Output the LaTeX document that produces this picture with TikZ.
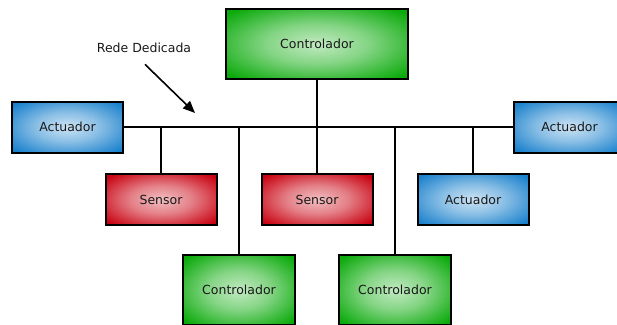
\documentclass[tikz,border=0pt]{standalone}
\usepackage{fontspec}
\setmainfont{DejaVu Sans}
\usetikzlibrary{arrows.meta,positioning}
\definecolor{ctlgreen}{HTML}{0AAA0A}
\definecolor{actblue}{HTML}{1880CC}
\definecolor{senred}{HTML}{C8000F}
\pgfdeclareradialshading{ctlshade}{\pgfpoint{0bp}{0bp}}{color(0bp)=(ctlgreen!25); color(14bp)=(ctlgreen!50); color(26bp)=(ctlgreen!82); color(33bp)=(ctlgreen); color(50bp)=(ctlgreen)}
\pgfdeclareradialshading{actshade}{\pgfpoint{0bp}{0bp}}{color(0bp)=(actblue!22); color(14bp)=(actblue!50); color(26bp)=(actblue!82); color(33bp)=(actblue); color(50bp)=(actblue)}
\pgfdeclareradialshading{senshade}{\pgfpoint{0bp}{0bp}}{color(0bp)=(senred!25); color(14bp)=(senred!50); color(26bp)=(senred!82); color(33bp)=(senred); color(50bp)=(senred)}

\begin{document}
\begin{tikzpicture}[x=1pt,y=-1pt,
  unit/.style={draw=black,line width=2pt,minimum width=111pt,minimum height=51pt,inner sep=0pt,font=\fontsize{12.5}{15}\selectfont,text=black!90},
  ctl/.style={unit,minimum width=112pt,minimum height=70pt,shading=ctlshade},
  act/.style={unit,shading=actshade},
  sen/.style={unit,shading=senshade},
  bus/.style={line width=1.6pt},
  arr/.style={-{Triangle[length=12pt,width=10pt]},line width=1.6pt}]
  \useasboundingbox (0,0) rectangle (617,324);
  % bus and nodes
  \node[ctl,minimum width=182pt] (ctlTop) at (317,44) {Controlador};
  \node[act] (actL) at (67.5,127) {Actuador};
  \node[act] (actR) at (569.5,127) {Actuador};
  \node[sen] (senA) at (161,199.5) {Sensor};
  \node[sen] (senB) at (317,199.5) {Sensor};
  \node[act] (actB) at (473,199.5) {Actuador};
  \node[ctl] (ctlA) at (239,290) {Controlador};
  \node[ctl] (ctlB) at (395,290) {Controlador};
  \draw[bus] (actL.east) -- (actR.west);
  \draw[bus] (ctlTop.south) -- (ctlTop.south |- actL.east);
  \foreach \n in {senA,senB,actB,ctlA,ctlB} \draw[bus] (\n.north) -- (\n.north |- actL.east);
  % label
  \node[font=\fontsize{12.5}{15}\selectfont,text=black!90] (rede) at (144,48) {Rede Dedicada};
  \coordinate (redeTip) at (195,113);
  \draw[arr] (rede.south) ++(1,8) -- (redeTip);
\end{tikzpicture}
\end{document}
